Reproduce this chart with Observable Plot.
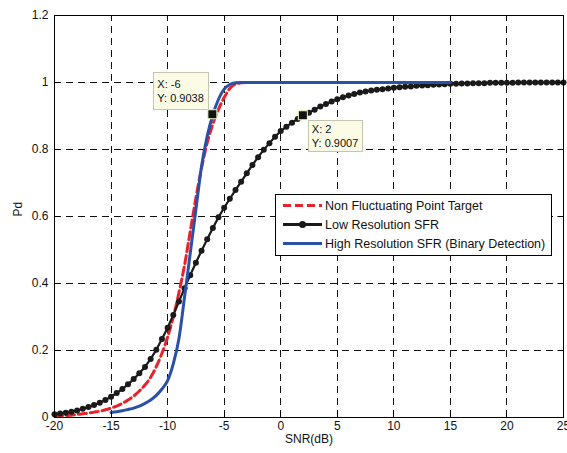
<!DOCTYPE html>
<html><head><meta charset="utf-8">
<script src="https://cdn.jsdelivr.net/npm/d3@7"></script>
<script src="https://cdn.jsdelivr.net/npm/@observablehq/plot@0.6"></script>
<style>body{margin:0;background:#fff;}</style>
</head><body><div id="chart"></div>
<script>
// ---- data ----
const xTicks = [-20, -15, -10, -5, 0, 5, 10, 15, 20, 25];
const yTicks = [0, 0.2, 0.4, 0.6, 0.8, 1, 1.2];
const yTickLabels = ["0", "0.2", "0.4", "0.6", "0.8", "1", "1.2"];

const seriesNames = ["Non Fluctuating Point Target", "Low Resolution SFR", "High Resolution SFR (Binary Detection)"];
const seriesColors = ["#e8222a", "#1a1a1a", "#2b50a8"];

const snrLow = [-20,-19.5,-19,-18.5,-18,-17.5,-17,-16.5,-16,-15.5,-15,-14.5,-14,-13.5,-13,-12.5,-12,-11.5,-11,-10.5,
  -10,-9.5,-9,-8.5,-8,-7.5,-7,-6.5,-6,-5.5,-5,-4.5,-4,-3.5,-3,-2.5,-2,-1.5,-1,-0.5,
  0,0.5,1,1.5,2,2.5,3,3.5,4,4.5,5,5.5,6,6.5,7,7.5,8,8.5,9,9.5,
  10,10.5,11,11.5,12,12.5,13,13.5,14,14.5,15,15.5,16,16.5,17,17.5,18,18.5,19,19.5,
  20,20.5,21,21.5,22,22.5,23,23.5,24,24.5,25];
const pdLow = [0.010,0.012,0.014,0.017,0.021,0.026,0.031,0.037,0.044,0.052,0.062,0.073,0.085,0.099,0.115,0.132,0.151,0.175,0.202,0.234,
  0.268,0.306,0.346,0.386,0.425,0.462,0.498,0.532,0.566,0.598,0.626,0.653,0.679,0.704,0.729,0.754,0.777,0.799,0.819,0.838,
  0.855,0.868,0.880,0.891,0.9007,0.910,0.919,0.928,0.936,0.943,0.950,0.956,0.961,0.966,0.970,0.973,0.976,0.978,0.980,0.982,
  0.984,0.986,0.987,0.988,0.990,0.991,0.992,0.993,0.994,0.995,0.996,0.996,0.997,0.997,0.998,0.998,0.998,0.999,0.999,0.999,
  0.999,0.999,1.000,1.000,1.000,1.000,1.000,1.000,1.000,1.000,1.000];

const snrNF = [-20,-19.5,-19,-18.5,-18,-17.5,-17,-16.5,-16,-15.5,-15,-14.5,-14,-13.5,-13,-12.5,-12,-11.5,-11,-10.5,
  -10,-9.5,-9,-8.5,-8,-7.5,-7,-6.5,-6,-5.5,-5,-4.5,-4,-3.5,-3,-2,-1,0,2,4,6,8,10,12,15];
const pdNF = [0.004,0.005,0.006,0.007,0.009,0.011,0.013,0.016,0.019,0.023,0.028,0.034,0.042,0.052,0.064,0.079,0.097,0.120,0.152,0.192,
  0.240,0.300,0.372,0.455,0.555,0.655,0.745,0.820,0.876,0.920,0.955,0.982,0.995,0.999,1,1,1,1,1,1,1,1,1,1,1];

const snrHR = [-15,-14.5,-14,-13.5,-13,-12.5,-12,-11.5,-11,-10.5,-10,-9.5,-9,-8.5,-8,-7.5,-7,-6.5,-6,-5.5,-5,-4.5,-4,-3.5,-3,-2,0,5,10,15];
const pdHR = [0.015,0.017,0.020,0.024,0.028,0.034,0.042,0.052,0.066,0.085,0.110,0.160,0.235,0.360,0.490,0.620,0.750,0.840,0.9038,0.950,0.980,0.994,0.999,1,1,1,1,1,1,1];

const tipX = [-6, 2];
const tipY = [0.9038, 0.9007];

// ---- build tables ----
const low = snrLow.map((x, i) => ({x, y: pdLow[i]}));
const nf = snrNF.map((x, i) => ({x, y: pdNF[i]}));
const hr = snrHR.map((x, i) => ({x, y: pdHR[i]}));
const tips = tipX.map((x, i) => ({x, y: tipY[i]}));

const FONT = "Liberation Sans, Arial, Helvetica, sans-serif";

function gridMark(index, scales, values, dim) {
  const g = d3.create("svg:g").attr("stroke", "#111").attr("stroke-width", 1).attr("stroke-dasharray", "7,5").attr("fill", "none");
  const L = dim.marginLeft, R = dim.width - dim.marginRight, T = dim.marginTop, B = dim.height - dim.marginBottom;
  for (const t of xTicks) {
    const px = Math.round(scales.x(t)) + 0.5;
    g.append("line").attr("x1", px).attr("x2", px).attr("y1", B).attr("y2", T);
  }
  for (const t of yTicks) {
    const py = Math.round(scales.y(t)) + 0.5;
    g.append("line").attr("x1", L).attr("x2", R).attr("y1", py).attr("y2", py);
  }
  return g.node();
}

function ticksMark(index, scales, values, dim) {
  const g = d3.create("svg:g").attr("stroke", "#000").attr("stroke-width", 1);
  const L = dim.marginLeft + 0.5, R = dim.width - dim.marginRight - 0.5, T = dim.marginTop + 0.5, B = dim.height - dim.marginBottom - 0.5;
  for (const t of xTicks) {
    const px = Math.round(scales.x(t)) + 0.5;
    g.append("line").attr("x1", px).attr("x2", px).attr("y1", B).attr("y2", B - 5);
    g.append("line").attr("x1", px).attr("x2", px).attr("y1", T).attr("y2", T + 5);
  }
  for (const t of yTicks) {
    const py = Math.round(scales.y(t)) + 0.5;
    g.append("line").attr("x1", L).attr("x2", L + 5).attr("y1", py).attr("y2", py);
    g.append("line").attr("x1", R).attr("x2", R - 5).attr("y1", py).attr("y2", py);
  }
  return g.node();
}

function tipsMark(index, scales, values, dim) {
  const g = d3.create("svg:g").attr("font-family", FONT).attr("font-size", 11).attr("text-anchor", "start");
  const boxes = [
    {bx: -59, by: -42, w: 55, h: 37},
    {bx: 5, by: 5, w: 54, h: 31}
  ];
  tips.forEach((d, i) => {
    const px = scales.x(d.x), py = scales.y(d.y);
    const b = boxes[i];
    g.append("rect").attr("x", Math.round(px + b.bx) + 0.5).attr("y", Math.round(py + b.by) + 0.5).attr("width", b.w).attr("height", b.h)
      .attr("fill", "#fbfbe6").attr("stroke", "#c4c4b0").attr("stroke-width", 1);
    g.append("text").attr("x", px + b.bx + 4).attr("y", py + b.by + b.h / 2 - 7).attr("dy", "0.35em")
      .attr("fill", "#111").attr("text-anchor", "start").text("X: " + String(d.x));
    g.append("text").attr("x", px + b.bx + 4).attr("y", py + b.by + b.h / 2 + 7).attr("dy", "0.35em")
      .attr("fill", "#111").attr("text-anchor", "start").text("Y: " + d.y.toFixed(4));
    g.append("rect").attr("x", px - 4.5).attr("y", py - 4.5).attr("width", 9).attr("height", 9)
      .attr("fill", "#111").attr("stroke", "#f4f4c8").attr("stroke-width", 1);
  });
  return g.node();
}

function legendMark(index, scales, values, dim) {
  const R = dim.width - dim.marginRight;
  const x0 = R - 288, y0 = dim.marginTop + 179, w = 276, h = 61;
  const g = d3.create("svg:g").attr("font-family", FONT).attr("font-size", 12.5).attr("text-anchor", "start");
  g.append("rect").attr("x", x0 + 0.5).attr("y", y0 + 0.5).attr("width", w).attr("height", h)
    .attr("fill", "#fff").attr("stroke", "#000").attr("stroke-width", 1);
  const rows = [y0 + 11.5, y0 + 30.5, y0 + 49.5];
  const lx1 = x0 + 8, lx2 = x0 + 47;
  g.append("line").attr("x1", lx1).attr("x2", lx2).attr("y1", rows[0]).attr("y2", rows[0])
    .attr("stroke", seriesColors[0]).attr("stroke-width", 3).attr("stroke-dasharray", "8,4");
  g.append("line").attr("x1", lx1).attr("x2", lx2).attr("y1", rows[1]).attr("y2", rows[1])
    .attr("stroke", seriesColors[1]).attr("stroke-width", 3);
  g.append("circle").attr("cx", (lx1 + lx2) / 2).attr("cy", rows[1]).attr("r", 3.5).attr("fill", seriesColors[1]);
  g.append("line").attr("x1", lx1).attr("x2", lx2).attr("y1", rows[2]).attr("y2", rows[2])
    .attr("stroke", seriesColors[2]).attr("stroke-width", 3);
  seriesNames.forEach((n, i) => {
    g.append("text").attr("x", lx2 + 3).attr("y", rows[i]).attr("dy", "0.35em").attr("fill", "#111")
      .attr("text-anchor", "start").text(n);
  });
  return g.node();
}

const chart = Plot.plot({
  width: 567,
  height: 453,
  marginLeft: 54,
  marginRight: 4,
  marginTop: 15,
  marginBottom: 36,
  style: {fontFamily: FONT, fontSize: "12px", background: "#fff", color: "#111"},
  x: {domain: [-20, 25], ticks: xTicks},
  y: {domain: [0, 1.2], ticks: yTicks},
  marks: [
    gridMark,
    Plot.axisX(xTicks, {tickSize: 0, tickPadding: 4, label: null, tickFormat: d => String(d), fontSize: 12}),
    Plot.axisY(yTicks, {tickSize: 0, tickPadding: 6, label: null, tickFormat: d => yTickLabels[yTicks.indexOf(d)], fontSize: 12}),
    Plot.text(["SNR(dB)"], {frameAnchor: "bottom", dy: 25, fontSize: 12, fill: "#111"}),
    Plot.text(["Pd"], {frameAnchor: "left", dx: -36, rotate: -90, fontSize: 12, fill: "#111"}),
    Plot.line(nf, {x: "x", y: "y", stroke: seriesColors[0], strokeWidth: 3, strokeDasharray: "8,4", curve: "monotone-x"}),
    Plot.line(low, {x: "x", y: "y", stroke: seriesColors[1], strokeWidth: 2.2}),
    Plot.dot(low, {x: "x", y: "y", r: 3, fill: seriesColors[1], stroke: "none"}),
    Plot.line(hr, {x: "x", y: "y", stroke: seriesColors[2], strokeWidth: 3, curve: "monotone-x"}),
    Plot.frame({stroke: "#000", strokeWidth: 1}),
    ticksMark,
    tipsMark,
    legendMark
  ]
});
document.getElementById("chart").appendChild(chart);
</script>
</body></html>
